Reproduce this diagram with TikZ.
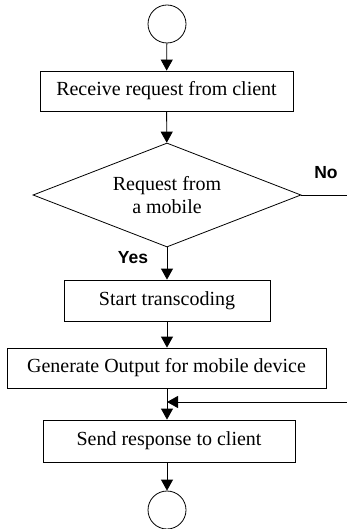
\documentclass[tikz,border=0pt]{standalone}
\usepackage{fontspec}
\setmainfont{Liberation Serif}
\newfontfamily\labelfont{Liberation Sans}
\usepackage{tikz}
\usetikzlibrary{arrows.meta,shapes.geometric,positioning}
\tikzset{
	flownode/.style = {align=center, inner sep=0pt, text centered, draw=black, line width=0.8pt, font=\fontsize{20}{23}\selectfont},
	flowterm/.style = {flownode, circle, minimum size=38pt},
	flowbox/.style = {flownode, rectangle, minimum height=40pt},
	flowdec/.style = {flownode, diamond, aspect=2.6, minimum width=268pt, minimum height=104pt},
	flowlab/.style = {font=\labelfont\bfseries\fontsize{17.5}{20}\selectfont}
}
\begin{document}
\begin{tikzpicture}[->,>={Triangle[length=11pt,width=12pt]}, line width=0.8pt, x=1pt, y=-1pt]
	\useasboundingbox (0,0) rectangle (347,529);
	\node [flowterm] (start) at (167,24) {};
	\node [flowbox, minimum width=253pt] (recv) at (166.5,91) {Receive request from client};
	\node [flowdec] (mobile) at (167,195) {Request from\\a mobile};
	\node [flowbox, minimum width=206pt, minimum height=41pt] (trans) at (167,300.5) {Start transcoding};
	\node [flowbox, minimum width=319pt] (gen) at (166.5,368) {Generate Output for mobile device};
	\node [flowbox, minimum width=252pt, minimum height=42pt] (send) at (169,441) {Send response to client};
	\node [flowterm] (stop) at (167,510) {};
	% ends running off the right edge
	\coordinate (noEnd) at (347,195);
	\coordinate (backIn) at (347,402);
	\coordinate (merge) at (167,402);
	
	\draw (start) -- (recv);
	\draw (recv) -- (mobile);
	\draw (mobile.south) -- (trans.north |- trans.north);
	\draw (trans) -- (gen.north -| trans.south);
	\draw (gen.south -| merge) -- (merge |- send.north);
	\draw (send.south -| stop.north) -- (stop);
	\draw [-] (mobile.east) -- (noEnd);
	\draw (backIn) -- (merge);
	
	\node [flowlab] (yesLab) at (133,258) {Yes};
	\node [flowlab] (noLab) at (326,173) {No};
\end{tikzpicture}
\end{document}
